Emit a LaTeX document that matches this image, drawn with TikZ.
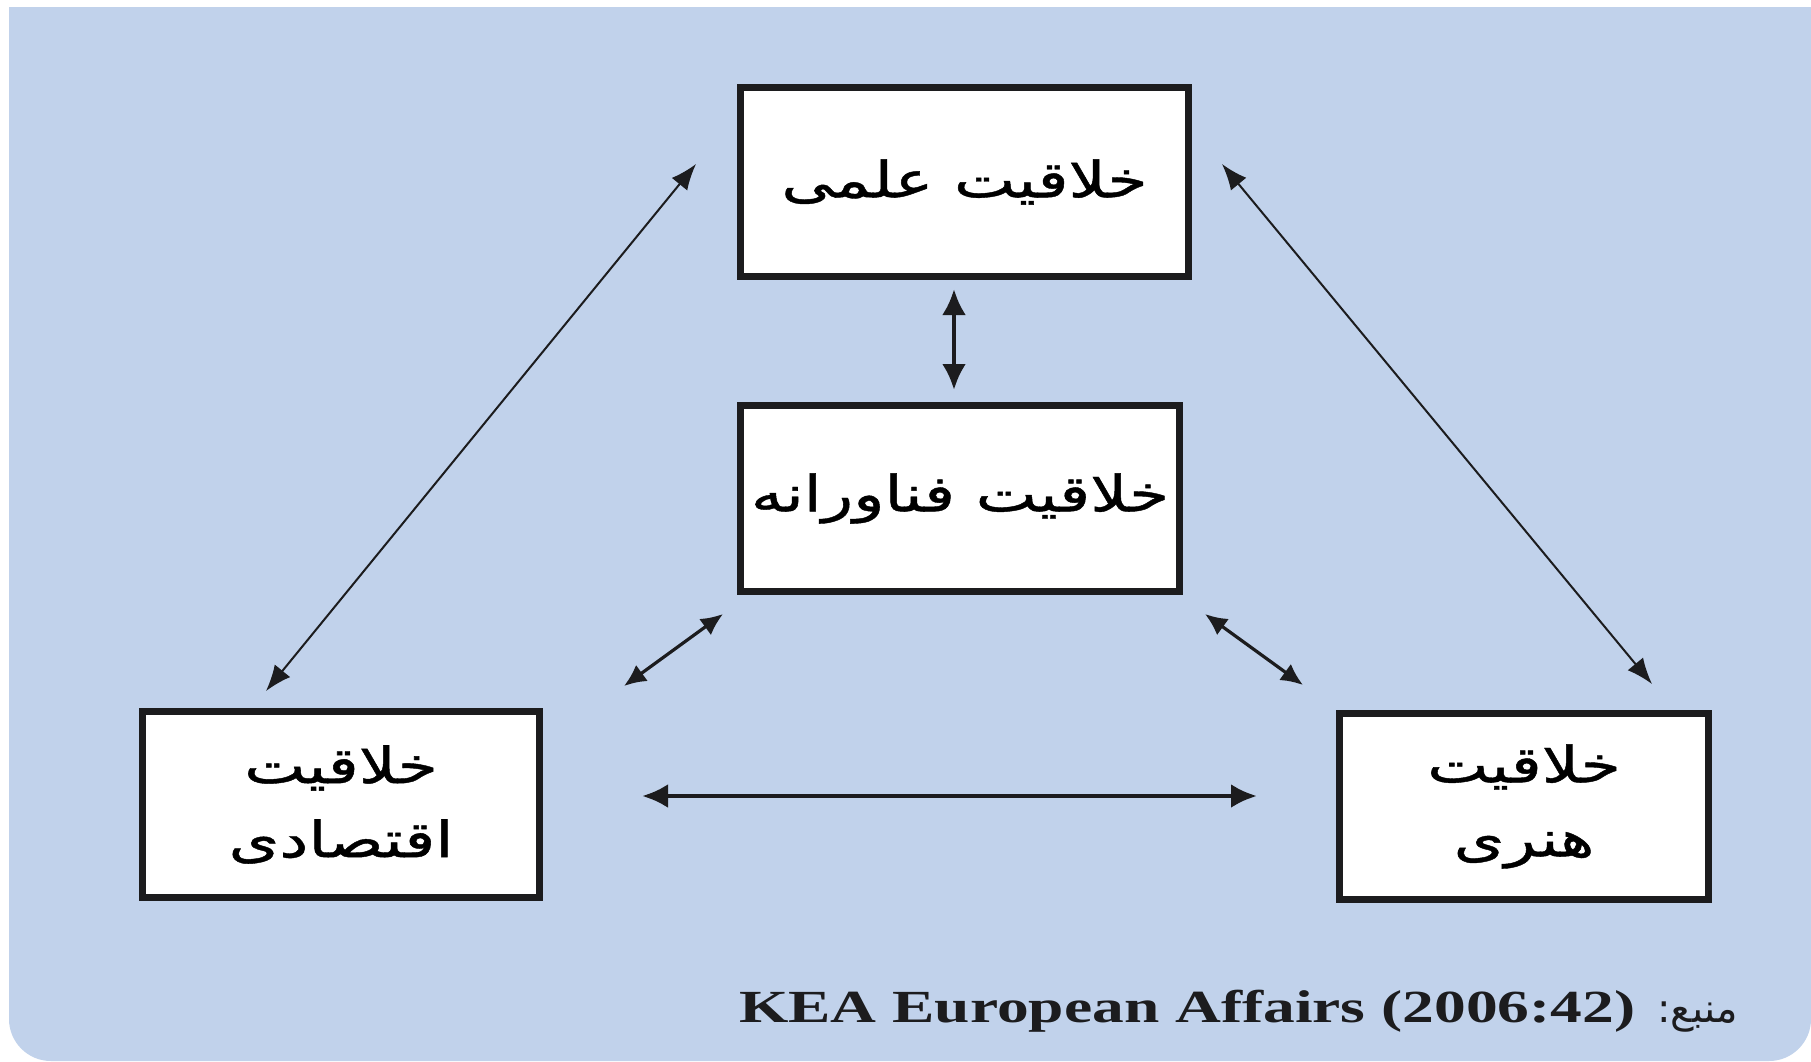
\documentclass[tikz,border=0pt]{standalone}
\usepackage{fontspec}
\usepackage{graphicx}
\usetikzlibrary{arrows.meta}
\TeXXeTstate=1
\setmainfont{Liberation Serif}
\newfontfamily\arabicfont[Script=Arabic,FakeBold=0.8]{DejaVu Sans}
\newfontfamily\arabicplain[Script=Arabic]{DejaVu Sans}
\definecolor{bgblue}{RGB}{193,210,235}
\definecolor{ink}{RGB}{28,28,30}
\newcommand{\boxfont}{\arabicfont\fontsize{50}{74}\selectfont}
\newcommand{\ar}[1]{\scalebox{1.3}[1]{\beginR #1\endR}}
\tikzset{
  box/.style={draw=ink, line width=7pt, fill=white, inner sep=0pt, align=center,
              font=\boxfont},
  thinarrow/.style={draw=ink, line width=2pt, {Latex[length=26pt,width=20pt]}-{Latex[length=26pt,width=20pt]}},
  midarrow/.style={draw=ink, line width=3.2pt, {Latex[length=22pt,width=20pt]}-{Latex[length=22pt,width=20pt]}},
  thickarrow/.style={draw=ink, line width=4.5pt, {Latex[length=26pt,width=24pt]}-{Latex[length=26pt,width=24pt]}}
}
\begin{document}
\begin{tikzpicture}[x=1pt,y=-1pt]
  \useasboundingbox (0,0) rectangle (1811,1061);
  \fill[white] (0,0) rectangle (1811,1061);
  \fill[bgblue, rounded corners=42pt] (9,7) rectangle (1811,1061);
  \fill[bgblue] (9,7) rectangle (1811,200);

  \node[box, minimum width=448pt, minimum height=189pt] (top) at (964.5,182)
    {\ar{خلاقیت علمی}};
  \node[box, minimum width=439pt, minimum height=186pt] (mid) at (960,498.5)
    {\ar{خلاقیت فناورانه}};
  \node[box, minimum width=397pt, minimum height=186pt] (econ) at (341,804.5)
    {\ar{خلاقیت}\\\ar{اقتصادی}};
  \node[box, minimum width=369pt, minimum height=186pt] (art) at (1524,806.5)
    {\ar{خلاقیت}\\\ar{هنری}};

  \coordinate (ldA) at (266,691);
  \coordinate (ldB) at (696,164);
  \coordinate (rdA) at (1222,164);
  \coordinate (rdB) at (1652,684);
  \coordinate (vA) at (954,289);
  \coordinate (vB) at (954,390);
  \coordinate (slA) at (624,686);
  \coordinate (slB) at (723,614);
  \coordinate (srA) at (1205,614);
  \coordinate (srB) at (1303,685);
  \coordinate (hA) at (642,796);
  \coordinate (hB) at (1257,796);

  \draw[thinarrow] (ldA) -- (ldB);
  \draw[thinarrow] (rdA) -- (rdB);
  \draw[midarrow] (slA) -- (slB);
  \draw[midarrow] (srA) -- (srB);
  \draw[thickarrow] (hA) -- (hB);
  \draw[thickarrow] (vA) -- (vB);

  \node[anchor=base east, inner sep=0pt, text=ink] (src) at (1738,1022)
    {\scalebox{1.38}[1]{\fontsize{46}{54}\selectfont\bfseries KEA European Affairs (2006:42)}\hspace{22pt}{\arabicplain\fontsize{40}{48}\selectfont\beginR منبع:\endR}};
\end{tikzpicture}
\end{document}
